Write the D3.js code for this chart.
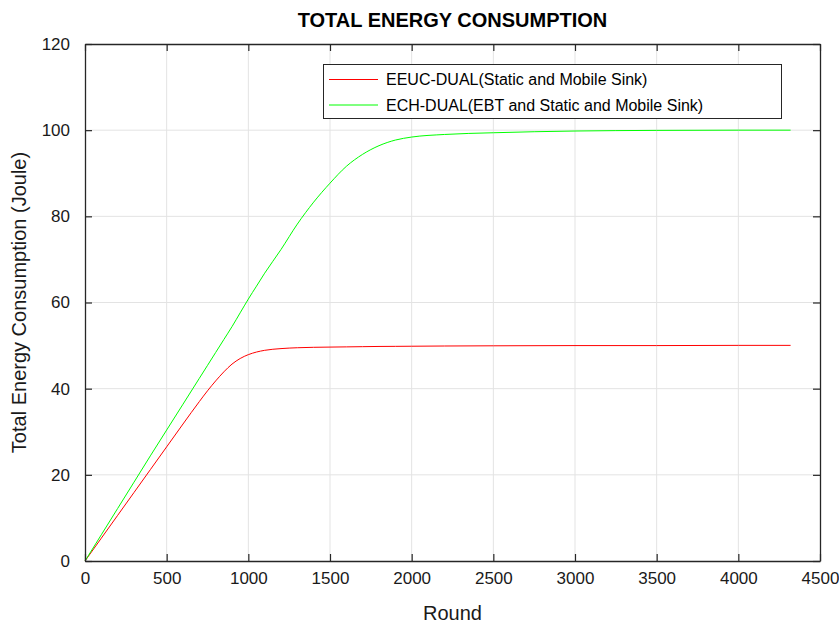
<!DOCTYPE html>
<html>
<head>
<meta charset="utf-8">
<script src="https://cdn.jsdelivr.net/npm/d3@7"></script>
<style>
  html, body { margin: 0; padding: 0; background: #fff; }
  svg { display: block; font-family: "Liberation Sans", Arial, Helvetica, sans-serif; }
</style>
</head>
<body>
<svg id="chart" width="839" height="624"></svg>
<script>
const title = "TOTAL ENERGY CONSUMPTION";
const xLabel = "Round";
const yLabel = "Total Energy Consumption (Joule)";
const seriesNames = ["EEUC-DUAL(Static and Mobile Sink)", "ECH-DUAL(EBT and Static and Mobile Sink)"];
const seriesColors = ["#ff0000", "#00ff00"];
const xTicks = [0, 500, 1000, 1500, 2000, 2500, 3000, 3500, 4000, 4500];
const yTicks = [0, 20, 40, 60, 80, 100, 120];

const rounds = [0, 100, 200, 300, 400, 500, 600, 700, 750, 800, 850, 900, 950, 1000, 1050, 1100, 1200, 1300, 1400, 1500, 1600, 1700, 1800, 1900, 2000, 2200, 2500, 3000, 3500, 4000, 4320];
const eeucDual = [0, 5.3, 10.6, 15.9, 21.2, 26.5, 31.8, 37.0, 39.5, 41.8, 43.9, 45.7, 47.0, 47.9, 48.5, 48.9, 49.3, 49.5, 49.6, 49.65, 49.7, 49.75, 49.8, 49.82, 49.85, 49.9, 49.95, 50.0, 50.0, 50.05, 50.05];
const echDual = [0, 6.1, 12.2, 18.3, 24.4, 30.4, 36.4, 42.4, 45.4, 48.4, 51.4, 54.4, 57.6, 60.8, 63.8, 66.8, 72.3, 78.2, 83.3, 87.7, 91.6, 94.4, 96.4, 97.7, 98.4, 99.0, 99.4, 99.8, 99.95, 100.0, 100.0];

const W = 839, H = 624;
const m = { left: 85, right: 19, top: 44, bottom: 63 };
const pw = W - m.left - m.right, ph = H - m.top - m.bottom;

const svg = d3.select("#chart");
svg.append("rect").attr("width", W).attr("height", H).attr("fill", "#fff");

const x = d3.scaleLinear().domain([0, 4500]).range([m.left, m.left + pw]);
const y = d3.scaleLinear().domain([0, 120]).range([m.top + ph, m.top]);

const g = svg.append("g");

// grid
g.append("g").selectAll("line").data(xTicks.slice(1, -1)).join("line")
  .attr("x1", d => x(d)).attr("x2", d => x(d))
  .attr("y1", m.top).attr("y2", m.top + ph)
  .attr("stroke", "#e3e3e3").attr("stroke-width", 1);
g.append("g").selectAll("line").data(yTicks.slice(1, -1)).join("line")
  .attr("y1", d => y(d)).attr("y2", d => y(d))
  .attr("x1", m.left).attr("x2", m.left + pw)
  .attr("stroke", "#e3e3e3").attr("stroke-width", 1);

// series
const series = [eeucDual, echDual];
const line = d3.line().x(d => x(d[0])).y(d => y(d[1])).curve(d3.curveMonotoneX);
series.forEach((vals, i) => {
  g.append("path")
    .datum(rounds.map((r, k) => [r, vals[k]]))
    .attr("d", line)
    .attr("fill", "none")
    .attr("stroke", seriesColors[i])
    .attr("stroke-width", 1);
});

const axisColor = "#262626";
const tickFont = 17;

// bottom axis
const xAxis = d3.axisBottom(x).tickValues(xTicks).tickSizeInner(-7).tickSizeOuter(0).tickPadding(11).tickFormat(d3.format("d"));
const gx = svg.append("g").attr("transform", `translate(0,${m.top + ph})`).call(xAxis);
// top axis
const xAxisTop = d3.axisTop(x).tickValues(xTicks).tickSizeInner(-7).tickSizeOuter(0).tickFormat("");
const gxt = svg.append("g").attr("transform", `translate(0,${m.top})`).call(xAxisTop);
// left axis
const yAxis = d3.axisLeft(y).tickValues(yTicks).tickSizeInner(-7).tickSizeOuter(0).tickPadding(15).tickFormat(d3.format("d"));
const gy = svg.append("g").attr("transform", `translate(${m.left},0)`).call(yAxis);
// right axis
const yAxisRight = d3.axisRight(y).tickValues(yTicks).tickSizeInner(-7).tickSizeOuter(0).tickFormat("");
const gyr = svg.append("g").attr("transform", `translate(${m.left + pw},0)`).call(yAxisRight);

[gx, gxt, gy, gyr].forEach(a => {
  a.selectAll("path.domain").attr("stroke", axisColor).attr("stroke-width", 1.3);
  a.selectAll(".tick line").attr("stroke", axisColor).attr("stroke-width", 1.2);
  a.selectAll("text").attr("fill", "#1a1a1a").attr("font-size", tickFont)
    .attr("font-family", "'Liberation Sans', Arial, sans-serif");
});

// title
svg.append("text").attr("x", m.left + pw / 2).attr("y", 27)
  .attr("text-anchor", "middle").attr("font-size", 20).attr("font-weight", "bold")
  .attr("fill", "#000").text(title);

// axis labels
svg.append("text").attr("x", m.left + pw / 2).attr("y", 620)
  .attr("text-anchor", "middle").attr("font-size", 20).attr("fill", "#1a1a1a").text(xLabel);
svg.append("text").attr("transform", `translate(26,${m.top + ph / 2}) rotate(-90)`)
  .attr("text-anchor", "middle").attr("font-size", 20).attr("fill", "#1a1a1a").text(yLabel);

// legend
const lg = svg.append("g");
lg.append("rect").attr("x", 323.5).attr("y", 64.5).attr("width", 458).attr("height", 54)
  .attr("fill", "#fff").attr("stroke", axisColor).attr("stroke-width", 1);
const rowY = [79.5, 105];
seriesNames.forEach((name, i) => {
  lg.append("line").attr("x1", 329).attr("x2", 378).attr("y1", rowY[i]).attr("y2", rowY[i])
    .attr("stroke", seriesColors[i]).attr("stroke-width", 1);
  lg.append("text").attr("x", 386).attr("y", rowY[i] + 5.8)
    .attr("font-size", 16).attr("fill", "#000").text(name);
});
</script>
</body>
</html>
